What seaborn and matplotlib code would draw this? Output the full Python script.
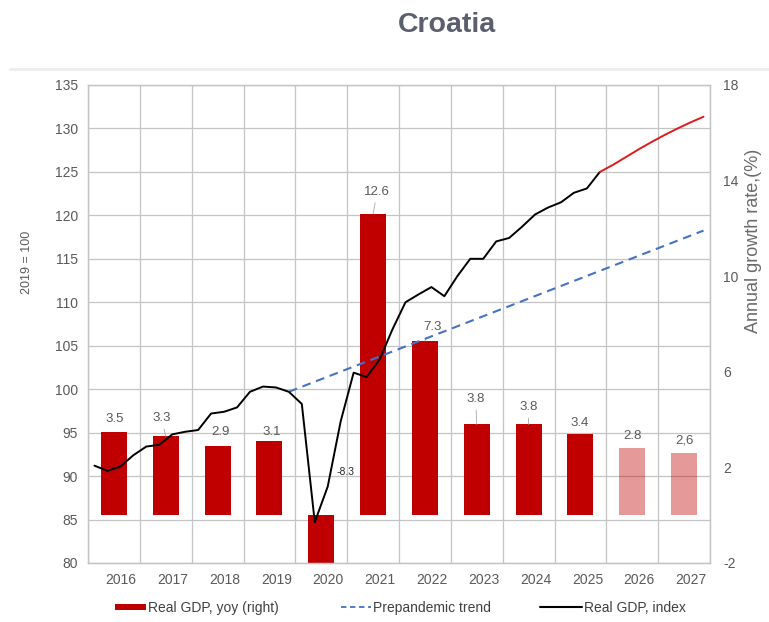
import matplotlib
matplotlib.use("Agg")
import matplotlib.pyplot as plt
import matplotlib.transforms as mtransforms
from matplotlib.lines import Line2D
from matplotlib.patches import Patch
import numpy as np
import pandas as pd
import seaborn as sns

# ---------------- data ----------------
years = ["2016", "2017", "2018", "2019", "2020", "2021",
         "2022", "2023", "2024", "2025", "2026", "2027"]
yoy_growth = [3.5, 3.3, 2.9, 3.1, -8.3, 12.6, 7.3, 3.8, 3.8, 3.4, 2.8, 2.6]
yoy_text = ["3.5", "3.3", "2.9", "3.1", "-8.3", "12.6",
            "7.3", "3.8", "3.8", "3.4", "2.8", "2,6"]
forecast_years = ["2026", "2027"]

index_quarters = [f"{y}Q{q}" for y in range(2016, 2026) for q in range(1, 5)]
gdp_index = [91.2, 90.6, 91.1, 92.4,
             93.4, 93.6, 94.8, 95.1,
             95.3, 97.2, 97.4, 97.9,
             99.7, 100.3, 100.2, 99.7,
             98.3, 84.7, 88.8, 96.3,
             101.9, 101.4, 103.4, 106.9,
             110.0, 110.9, 111.75, 110.7,
             113.0, 115.0, 115.0, 117.0,
             117.4, 118.7, 120.1, 120.9,
             121.5, 122.6, 123.1, 125.0]

forecast_quarters = ["2025Q4", "2026Q1", "2026Q2", "2026Q3", "2026Q4",
                     "2027Q1", "2027Q2", "2027Q3", "2027Q4"]
gdp_forecast = [125.0, 125.8, 126.7, 127.6, 128.45, 129.25, 130.0, 130.7, 131.35]

trend_quarters = ["2019Q4", "2027Q4"]
trend_index = [99.7, 118.25]

left_ticks = list(range(80, 136, 5))
right_ticks = [-2, 2, 6, 10, 14, 18]

# ---------------- styling ----------------
BAR_RED = "#C00000"
LINE_RED = "#DD1C1A"
TREND_BLUE = "#4472C4"
GRID = "#C4C4C4"
TXT = "#595959"

sns.set_theme(style="white")
plt.rcParams["font.family"] = ["Liberation Sans", "DejaVu Sans"]
plt.rcParams["axes.unicode_minus"] = False

W, H = 769, 622
fig = plt.figure(figsize=(W / 100, H / 100), dpi=100)
fig.patch.set_facecolor("white")


def fx(px):
    return px / W


def fy(py):
    return 1 - py / H


# plot box: x 88..710, y 85..563 (pixels)
axb = fig.add_axes([fx(88), fy(563), fx(710) - fx(88), fy(85) - fy(563)])
axl = axb.twinx()


def quarter_pos(label):
    year = int(label[:4])
    q = int(label[-1])
    return (year - 2016) - 0.375 + 0.25 * (q - 1)


# ---------------- bars (right axis) ----------------
bar_df = pd.DataFrame({"pos": np.arange(len(years)), "growth": yoy_growth, "year": years})
sns.barplot(data=bar_df, x="pos", y="growth", hue="year",
            palette={y: BAR_RED for y in years}, native_scale=True,
            width=0.5, saturation=1, legend=False, linewidth=0, ax=axb)
for patch in axb.patches:
    idx = int(round(patch.get_x() + patch.get_width() / 2))
    patch.set_zorder(2)
    if years[idx] in forecast_years:
        patch.set_alpha(0.4)

axb.set_xlim(-0.5, len(years) - 0.5)
axb.set_ylim(-2, 18)
axb.yaxis.tick_right()
axb.set_yticks(right_ticks)
axb.set_xticks(np.arange(len(years)))
axb.set_xticklabels(years)
axb.set_xticks(np.arange(-0.5, len(years), 1.0), minor=True)
axb.grid(False)
axb.grid(True, which="minor", axis="x", color=GRID, lw=0.9)
axb.set_axisbelow(True)
axb.set_xlabel("")
axb.set_ylabel("")
axb.tick_params(axis="both", which="both", length=0, labelsize=10, labelcolor=TXT)
axb.tick_params(axis="y", pad=9.4)
axb.tick_params(axis="x", pad=7)
shift = mtransforms.ScaledTranslation(7 / 100, 0, fig.dpi_scale_trans)
for lab in axb.get_xticklabels():
    lab.set_transform(lab.get_transform() + shift)

# horizontal grid follows the left (index) scale, drawn behind the bars
grid_tr = mtransforms.blended_transform_factory(axb.transAxes, axl.transData)
for v in left_ticks:
    axb.add_line(Line2D([0, 1], [v, v], transform=grid_tr, color=GRID, lw=0.9, zorder=0.5))

for sp in axb.spines.values():
    sp.set_color(GRID)
    sp.set_linewidth(0.9)

# value labels above bars (offsets in pixels, with optional leader lines)
label_offsets = [(1, 13), (-4, 18), (3, 14), (2, 9), None, (4, 22),
                 (8, 14), (-1, 25), (0, 17), (-1, 11), (0, 12), (0, 13)]
leader = [False, True, False, False, False, True, True, True, True, False, False, False]
for i, (val, txt) in enumerate(zip(yoy_growth, yoy_text)):
    off = label_offsets[i]
    if off is None:
        continue
    arrow = dict(arrowstyle="-", color="#A6A6A6", lw=0.6, shrinkA=1, shrinkB=0) if leader[i] else None
    axb.annotate(txt, xy=(i, val), xytext=off, textcoords="offset pixels",
                 ha="center", va="center", fontsize=9.5, color=TXT,
                 arrowprops=arrow, zorder=5)

# the 2020 contraction is labelled beside its (clipped) bar
i2020 = years.index("2020")
axb.annotate(yoy_text[i2020], xy=(i2020, 0), xytext=(24, 43), textcoords="offset pixels",
             ha="center", va="center", fontsize=7.5, color="#262626", zorder=5)

# ---------------- lines (left axis) ----------------
hist_df = pd.DataFrame({"pos": [quarter_pos(q) for q in index_quarters], "value": gdp_index})
fc_df = pd.DataFrame({"pos": [quarter_pos(q) for q in forecast_quarters], "value": gdp_forecast})
tr_df = pd.DataFrame({"pos": [quarter_pos(q) for q in trend_quarters], "value": trend_index})

sns.lineplot(data=tr_df, x="pos", y="value", color=TREND_BLUE, lw=1.5, ax=axl, zorder=3)
axl.get_lines()[-1].set_dashes((4.2, 2.8))
sns.lineplot(data=hist_df, x="pos", y="value", color="black", lw=1.4, ax=axl, zorder=4)
sns.lineplot(data=fc_df, x="pos", y="value", color=LINE_RED, lw=1.4, ax=axl, zorder=4)

axl.set_ylim(80, 135)
axl.set_yticks(left_ticks)
axl.yaxis.tick_left()
axl.set_xlim(-0.5, len(years) - 0.5)
axl.set_xlabel("")
axl.set_ylabel("")
axl.grid(False)
axl.tick_params(axis="y", length=0, labelsize=10, labelcolor=TXT, pad=7.2)
for sp in axl.spines.values():
    sp.set_color(GRID)
    sp.set_linewidth(0.9)

# ---------------- figure text ----------------
fig.text(fx(446.7), fy(25), "Croatia", ha="center", va="center",
         fontsize=20.5, fontweight="bold", color="#595F6E")
fig.add_artist(Line2D([fx(10), 1], [fy(69), fy(69)], color="#EEEEEE", lw=2.2))

fig.text(fx(27), fy(262), "2019 = 100", rotation=90, ha="center", va="center",
         fontsize=9, color=TXT)
fig.text(fx(753), fy(241), "Annual growth rate,(%)", rotation=90, ha="center", va="center",
         fontsize=13, color="#6A6A6A")

# ---------------- legend ----------------
leg_y = fy(608)
legend_items = [
    (Patch(facecolor=BAR_RED, edgecolor="none"), "Real GDP, yoy (right)", 115, 2.2, 0.36),
    (Line2D([], [], color=TREND_BLUE, lw=1.3, dashes=(3.0, 2.0)), "Prepandemic trend", 341, 2.15, 0.7),
    (Line2D([], [], color="black", lw=1.5), "Real GDP, index", 540, 3.0, 0.7),
]
for handle, text, x0, hl, hh in legend_items:
    lg = fig.legend([handle], [text], loc="center left", bbox_to_anchor=(fx(x0), leg_y),
                    frameon=False, fontsize=10, handlelength=hl, handleheight=hh,
                    handletextpad=0.15, borderpad=0, borderaxespad=0)
    for t in lg.get_texts():
        t.set_color("#404040")

fig.savefig("out.png", dpi=100, facecolor="white")
